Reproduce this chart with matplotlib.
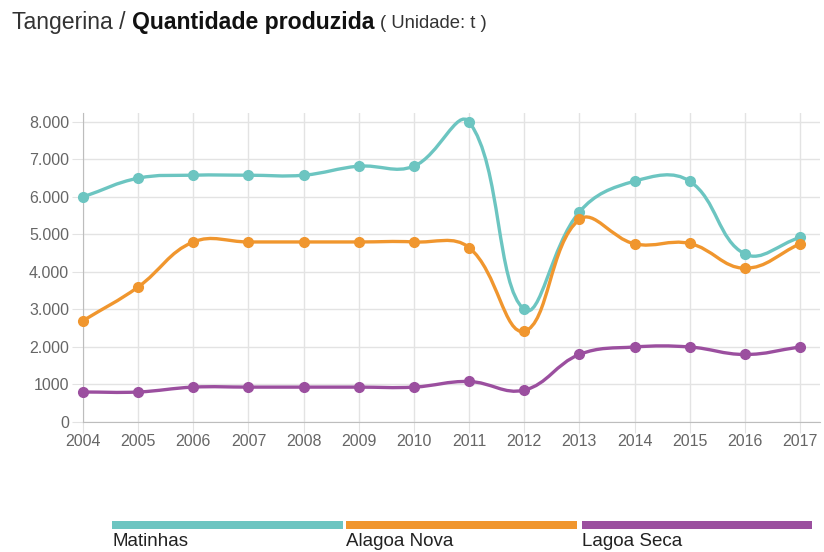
import numpy as np
import matplotlib
matplotlib.use("Agg")
import matplotlib.pyplot as plt
from matplotlib.path import Path
from matplotlib.patches import PathPatch, Rectangle

plt.rcParams['font.family'] = ['Liberation Sans', 'DejaVu Sans']

years = [2004, 2005, 2006, 2007, 2008, 2009, 2010, 2011, 2012, 2013, 2014, 2015, 2016, 2017]
matinhas = [6000, 6500, 6580, 6580, 6580, 6820, 6820, 8000, 3000, 5600, 6420, 6420, 4480, 4920]
alagoa_nova = [2700, 3600, 4800, 4800, 4800, 4800, 4800, 4650, 2420, 5400, 4750, 4760, 4100, 4750]
lagoa_seca = [800, 800, 930, 930, 930, 930, 930, 1080, 850, 1800, 2000, 2000, 1800, 2000]

series_names = ['Matinhas', 'Alagoa Nova', 'Lagoa Seca']
series_colors = ['#6cc5c1', '#f0962e', '#9b4f9f']
y_ticks = [0, 1000, 2000, 3000, 4000, 5000, 6000, 7000, 8000]
y_tick_labels = ['0', '1000', '2.000', '3.000', '4.000', '5.000', '6.000', '7.000', '8.000']

W, H = 824, 552
fig = plt.figure(figsize=(W / 100, H / 100), dpi=100)
ax = fig.add_axes([83 / W, 1 - 422 / H, (820 - 83) / W, (422 - 113) / H])

x0, x1 = 2004, 2017 + 20 / 55.15
y0, y1 = 0, 8000 + 9 / 37.75 * 1000
ax.set_xlim(x0, x1)
ax.set_ylim(y0, y1)

# px per unit, used for bezier control points (chart.js style tension)
sx, sy = 55.15, 37.75 / 1000


def smooth_path(xs, ys, t=0.4):
    xs = np.asarray(xs, float)
    ys = np.asarray(ys, float)
    n = len(xs)
    px, py = xs * sx, ys * sy
    cps = []
    for i in range(n):
        pi = max(i - 1, 0)
        ni = min(i + 1, n - 1)
        d01 = np.hypot(px[i] - px[pi], py[i] - py[pi])
        d12 = np.hypot(px[ni] - px[i], py[ni] - py[i])
        tot = d01 + d12 if d01 + d12 > 0 else 1
        fa = t * d01 / tot
        fb = t * d12 / tot
        dx, dy = px[ni] - px[pi], py[ni] - py[pi]
        cps.append(((px[i] - fa * dx) / sx, (py[i] - fa * dy) / sy,
                    (px[i] + fb * dx) / sx, (py[i] + fb * dy) / sy))
    verts = [(xs[0], ys[0])]
    codes = [Path.MOVETO]
    for i in range(n - 1):
        verts += [(cps[i][2], cps[i][3]), (cps[i + 1][0], cps[i + 1][1]), (xs[i + 1], ys[i + 1])]
        codes += [Path.CURVE4] * 3
    return Path(verts, codes)


for vals, c in zip([matinhas, alagoa_nova, lagoa_seca], series_colors):
    ax.add_patch(PathPatch(smooth_path(years, vals), facecolor='none', edgecolor=c,
                           lw=2.4, zorder=3, capstyle='round', joinstyle='round', clip_on=False))
    ax.plot(years, vals, 'o', color=c, ms=7, zorder=4, clip_on=False)

ax.set_xticks(years)
ax.set_xticklabels([str(y) for y in years])
ax.set_yticks(y_ticks)
ax.set_yticklabels(y_tick_labels)
ax.grid(True, color='#e3e3e3', lw=1)
ax.set_axisbelow(True)
for s in ['top', 'right']:
    ax.spines[s].set_visible(False)
for s in ['left', 'bottom']:
    ax.spines[s].set_color('#bdbdbd')
ax.tick_params(axis='x', length=8, color='#e3e3e3', labelsize=11.5, labelcolor='#666666', pad=1)
ax.tick_params(axis='y', length=8, color='#e3e3e3', labelsize=11.5, labelcolor='#666666', pad=2)

# title in pieces
fig.canvas.draw()
r = fig.canvas.get_renderer()
tx, ty = 12 / W, 1 - 23 / H
t1 = fig.text(tx, ty, 'Tangerina / ', fontsize=16.6, color='#333333', va='center')
bb = t1.get_window_extent(r)
t2 = fig.text(bb.x1 / W, ty, 'Quantidade produzida', fontsize=16.6, fontweight='bold',
              color='#111111', va='center')
bb = t2.get_window_extent(r)
fig.text(bb.x1 / W + 6 / W, ty, '( Unidade: t )', fontsize=13.3, color='#333333', va='center')

# legend bars
legend_x = [112, 346, 582]
legend_w = [231, 231, 230]
for name, c, lx, lw_ in zip(series_names, series_colors, legend_x, legend_w):
    fig.add_artist(Rectangle((lx / W, 1 - 529 / H), lw_ / W, 8 / H,
                             transform=fig.transFigure, color=c, lw=0))
    fig.text(lx / W, 1 - 541 / H, name, fontsize=13.5, color='#222222', va='center')

fig.savefig('out.png', dpi=100)
